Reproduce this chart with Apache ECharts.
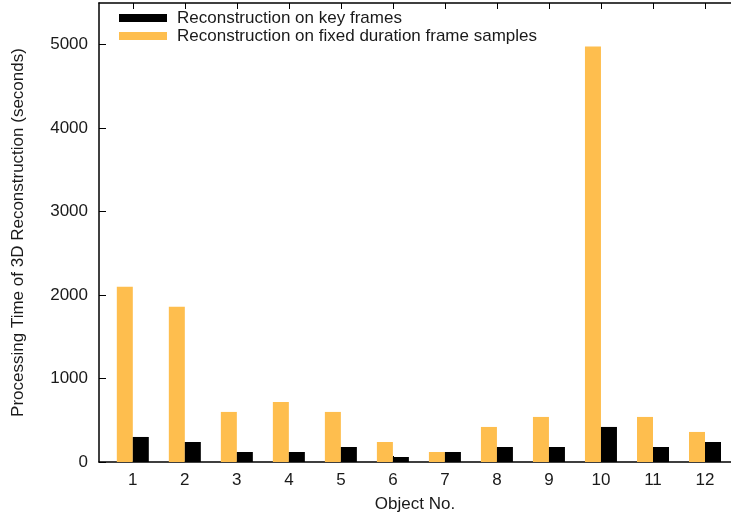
<!DOCTYPE html>
<html>
<head>
<meta charset="utf-8">
<title>Processing Time of 3D Reconstruction</title>
<script src="https://cdn.jsdelivr.net/npm/echarts@6/dist/echarts.min.js"></script>
<style>
  html, body { margin: 0; padding: 0; background: #fff; }
  #chart { width: 731px; height: 520px; }
</style>
</head>
<body>
<div id="chart"></div>
<script>
// Object numbers along the x axis
const objectNo = [1, 2, 3, 4, 5, 6, 7, 8, 9, 10, 11, 12];
// Processing time in seconds for each object
const keyFrames = [300, 240, 120, 120, 180, 60, 120, 180, 180, 420, 180, 240];
const fixedDuration = [2100, 1860, 600, 720, 600, 240, 120, 420, 540, 4980, 540, 360];
// Y axis tick values
const yTicks = [0, 1000, 2000, 3000, 4000, 5000];

const nameKey = 'Reconstruction on key frames';
const nameFixed = 'Reconstruction on fixed duration frame samples';
const FONT = 'Liberation Sans, Arial, sans-serif';
const TEXT = '#1a1a1a';

const chart = echarts.init(document.getElementById('chart'), null, { renderer: 'canvas' });

chart.setOption({
  animation: false,
  backgroundColor: '#fff',
  textStyle: { fontFamily: FONT },
  grid: { left: 99, right: 0, top: 3, bottom: 58, containLabel: false },
  legend: {
    orient: 'vertical',
    left: 119,
    top: 9,
    padding: 0,
    itemWidth: 48,
    itemHeight: 8,
    itemGap: 0,
    icon: 'rect',
    data: [nameKey, nameFixed],
    textStyle: { fontFamily: FONT, fontSize: 17, lineHeight: 18, color: TEXT, padding: [0, 0, 0, 5] }
  },
  xAxis: [
    {
      type: 'value',
      position: 'bottom',
      min: 0.35,
      max: 12.5,
      splitLine: { show: false },
      axisLine: { show: true, onZero: false, lineStyle: { color: '#000', width: 1.5 } },
      axisTick: { show: true, inside: true, length: 6, customValues: objectNo, lineStyle: { color: '#000' } },
      axisLabel: {
        customValues: objectNo,
        formatter: v => String(Math.round(v)),
        fontFamily: FONT, fontSize: 17, color: TEXT, margin: 10
      },
      name: 'Object No.',
      nameLocation: 'middle',
      nameGap: 34,
      nameTextStyle: { fontFamily: FONT, fontSize: 17, color: TEXT }
    },
    {
      type: 'value',
      position: 'top',
      min: 0.35,
      max: 12.5,
      splitLine: { show: false },
      axisLine: { show: true, onZero: false, lineStyle: { color: '#000', width: 1.5 } },
      axisTick: { show: true, inside: true, length: 6, customValues: objectNo, lineStyle: { color: '#000' } },
      axisLabel: { show: false }
    }
  ],
  yAxis: {
    type: 'value',
    min: 0,
    max: 5500,
    splitLine: { show: false },
    axisLine: { show: true, lineStyle: { color: '#000', width: 1.5 } },
    axisTick: { show: true, inside: true, length: 7, customValues: yTicks, lineStyle: { color: '#000' } },
    axisLabel: {
      customValues: yTicks,
      formatter: v => String(Math.round(v)),
      fontFamily: FONT, fontSize: 17, color: TEXT, margin: 11
    },
    name: 'Processing Time of 3D Reconstruction (seconds)',
    nameLocation: 'middle',
    nameGap: 72,
    nameTextStyle: { fontFamily: FONT, fontSize: 17, color: TEXT }
  },
  series: [
    {
      name: nameFixed,
      type: 'bar',
      xAxisIndex: 0,
      barWidth: 16,
      barGap: '0%',
      itemStyle: { color: '#FEBE4E' },
      data: objectNo.map((n, i) => [n, fixedDuration[i]])
    },
    {
      name: nameKey,
      type: 'bar',
      xAxisIndex: 0,
      barWidth: 16,
      barGap: '0%',
      itemStyle: { color: '#000000' },
      data: objectNo.map((n, i) => [n, keyFrames[i]])
    }
  ]
});
</script>
</body>
</html>
